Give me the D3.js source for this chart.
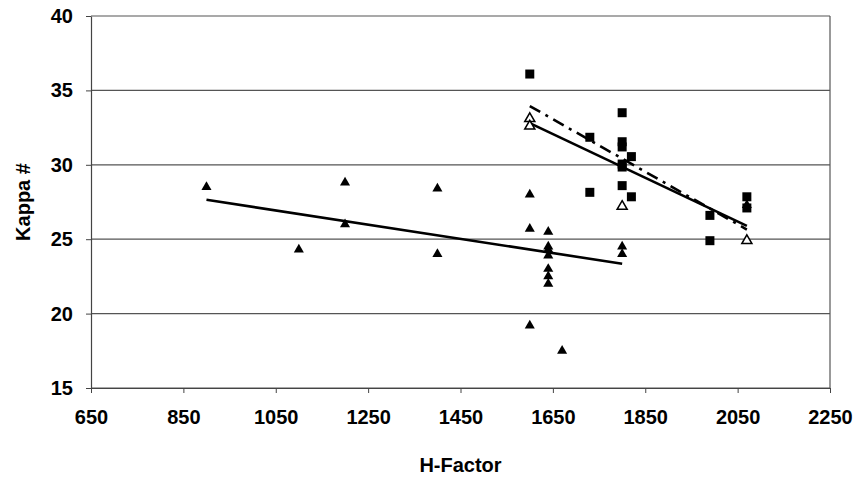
<!DOCTYPE html>
<html>
<head>
<meta charset="utf-8">
<script src="https://cdn.jsdelivr.net/npm/d3@7"></script>
<style>
  body { margin: 0; background: #fff; }
  text { font-family: "Liberation Sans", Arial, sans-serif; font-weight: bold; fill: #000; }
</style>
</head>
<body>
<div id="chart"></div>
<script>
// ticks
const xTicks = [650, 850, 1050, 1250, 1450, 1650, 1850, 2050, 2250];
const yTicks = [15, 20, 25, 30, 35, 40];

// filled triangles
const triX = [900, 1100, 1200, 1200, 1400, 1400, 1600, 1600, 1600,
              1640, 1640, 1640, 1640, 1640, 1640, 1640, 1670, 1800, 1800, 2070];
const triY = [28.5, 24.3, 28.8, 26.0, 28.4, 24.0, 28.0, 25.7, 19.2,
              25.5, 24.5, 24.3, 23.9, 23.0, 22.5, 22.0, 17.5, 24.5, 24.0, 27.3];

// filled squares
const sqX = [1600, 1730, 1730, 1800, 1800, 1800, 1800, 1800, 1800, 1820, 1820, 1990, 1990, 2070, 2070];
const sqY = [36.1, 31.85, 28.15, 33.5, 31.55, 31.2, 30.05, 29.85, 28.6, 30.55, 27.85, 26.6, 24.9, 27.85, 27.1];

// open triangles
const openX = [1600, 1600, 1800, 2070];
const openY = [33.1, 32.6, 27.2, 24.9];

// trend lines (end points)
const trendTriX = [900, 1800];
const trendTriY = [27.65, 23.35];
const trendSqX = [1600, 2070];
const trendSqY = [32.8, 25.9];
const trendOpenX = [1600, 2070];
const trendOpenY = [33.95, 25.65];

const width = 864, height = 478;
const margin = {top: 16, right: 34, bottom: 90, left: 91};
const chartW = width - margin.left - margin.right;
const chartH = height - margin.top - margin.bottom;

const svg = d3.select('#chart').append('svg')
  .attr('width', width).attr('height', height);
const g = svg.append('g').attr('transform', `translate(${margin.left},${margin.top})`);

const x = d3.scaleLinear().domain([650, 2250]).range([0, chartW]);
const y = d3.scaleLinear().domain([15, 40]).range([chartH, 0]);

// grid
g.selectAll('.grid').data(yTicks).enter().append('line')
  .attr('x1', 0).attr('x2', chartW)
  .attr('y1', d => y(d)).attr('y2', d => y(d))
  .attr('stroke', '#555').attr('stroke-width', 1.2);
// right border
g.append('line').attr('x1', chartW).attr('x2', chartW).attr('y1', 0).attr('y2', chartH)
  .attr('stroke', '#555').attr('stroke-width', 1.2);

// axes
const xAxis = d3.axisBottom(x).tickValues(xTicks).tickFormat(d3.format('d'))
  .tickSize(5).tickSizeOuter(0).tickPadding(17);
const xg = g.append('g').attr('transform', `translate(0,${chartH})`).call(xAxis);
const yAxis = d3.axisLeft(y).tickValues(yTicks).tickSize(5).tickSizeOuter(0).tickPadding(13);
const yg = g.append('g').call(yAxis);
[xg, yg].forEach(a => {
  a.select('.domain').attr('stroke', '#444').attr('stroke-width', 1.2);
  a.selectAll('.tick line').attr('stroke', '#444');
  a.selectAll('text').style('font-size', '20px').style('font-family', '"Liberation Sans", Arial, sans-serif')
    .style('font-weight', 'bold').attr('fill', '#000');
});

// trend lines
const line = d3.line().x(d => x(d[0])).y(d => y(d[1]));
g.append('path').datum(d3.zip(trendTriX, trendTriY)).attr('d', line)
  .attr('fill', 'none').attr('stroke', '#000').attr('stroke-width', 2.6);
g.append('path').datum(d3.zip(trendSqX, trendSqY)).attr('d', line)
  .attr('fill', 'none').attr('stroke', '#000').attr('stroke-width', 2.6);
g.append('path').datum(d3.zip(trendOpenX, trendOpenY)).attr('d', line)
  .attr('fill', 'none').attr('stroke', '#000').attr('stroke-width', 2.6)
  .attr('stroke-dasharray', '12,6,3,6');

// markers
const tri = d3.symbol().type(d3.symbolTriangle).size(44);
g.selectAll('.sq').data(d3.zip(sqX, sqY)).enter().append('rect')
  .attr('x', d => x(d[0]) - 4.5).attr('y', d => y(d[1]) - 4.5)
  .attr('width', 9).attr('height', 9).attr('fill', '#000');
g.selectAll('.tri').data(d3.zip(triX, triY)).enter().append('path')
  .attr('d', tri).attr('transform', d => `translate(${x(d[0])},${y(d[1])})`)
  .attr('fill', '#000');
g.selectAll('.open').data(d3.zip(openX, openY)).enter().append('path')
  .attr('d', tri).attr('transform', d => `translate(${x(d[0])},${y(d[1])})`)
  .attr('fill', '#fff').attr('stroke', '#000').attr('stroke-width', 1.5);

// axis titles
svg.append('text').attr('x', margin.left + chartW / 2).attr('y', 472)
  .attr('text-anchor', 'middle').style('font-size', '20px').text('H-Factor');
svg.append('text').attr('transform', `translate(30,${margin.top + chartH / 2}) rotate(-90)`)
  .attr('text-anchor', 'middle').style('font-size', '20px').text('Kappa #');
</script>
</body>
</html>
